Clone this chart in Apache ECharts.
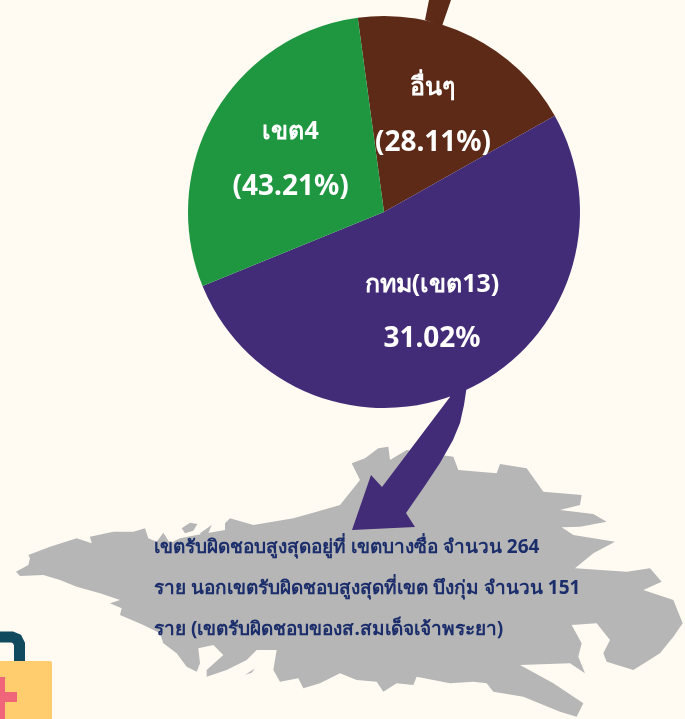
<!DOCTYPE html>
<html><head><meta charset="utf-8">
<style>html,body{margin:0;padding:0;background:#FFFBF3}#c{width:685px;height:719px}</style>
<script src="https://cdn.jsdelivr.net/npm/echarts@6/dist/echarts.min.js"></script></head>
<body><div id="c"></div>
<script>
// Printed labels, exactly as the picture shows them.
const categories = ['อื่นๆ', 'กทม(เขต13)', 'เขต4'];
const printedPercents = ['(28.11%)', '31.02%', '(43.21%)'];
// Slice sizes measured from the drawn wedge angles (the printed percentages do not match the wedges).
const sliceShares = [18.97, 52.0, 29.03];
const captionLines = [
  'เขตรับผิดชอบสูงสุดอยู่ที่ เขตบางซื่อ จำนวน 264',
  'ราย นอกเขตรับผิดชอบสูงสุดที่เขต บึงกุ่ม จำนวน 151',
  'ราย (เขตรับผิดชอบของส.สมเด็จเจ้าพระยา)'
];

const colors = ['#5C2A17', '#422C78', '#1F9640'];
const offsets = [[4, -6], [4, 9], [-6, -2]];
const FONT = '"Noto Sans", "Noto Sans CJK SC", sans-serif';

// Decorative map silhouette (not data), traced in two crops of the picture.
const west = [[48,215],[85,195],[90,175],[85,165],[150,140],[230,115],[275,130],[270,110],[340,95],[400,95],[435,85],[445,115],[470,125],[490,98],[510,130],[540,115],[590,105],[675,90],[675,70],[690,55],[760,75],[880,55],[950,35],[1020,15]].map(p => [p[0]/3, 500+p[1]/3]);
const east = [[60,120],[35,70],[75,55],[115,25],[145,20],[150,60],[200,30],[340,50],[355,90],[470,100],[480,72],[560,85],[610,155],[725,165],[720,195],[660,210],[760,222],[800,245],[720,260],[665,262],[700,285],[825,305],[760,340],[705,385],[860,395],[930,385],[965,425],[910,450],[1000,480],[1028,550],[1000,590],[960,640],[880,690],[800,665],[790,640],[810,600],[770,550],[695,555],[725,610],[715,650],[735,700],[690,670],[540,675],[640,730],[730,790],[710,830],[660,815],[550,770],[460,755],[440,730],[400,725],[330,730],[230,710],[220,735],[170,730],[130,755],[110,725],[50,720],[0,700]].map(p => [340+p[0]/3, 440+p[1]/3]);
const southWest = [[960,550],[910,565],[895,535],[840,545],[820,510],[830,450],[770,450],[740,480],[680,510],[620,530],[620,510],[670,465],[640,435],[595,445],[600,490],[590,515],[560,500],[530,460],[490,430],[480,400],[430,375],[360,345],[365,325],[330,310],[360,300],[300,280],[230,260],[180,240],[130,225],[60,228]].map(p => [p[0]/3, 500+p[1]/3]);
const mapPts = west.concat(east, southWest);
const islets = [
  [[545,85],[570,68],[592,72],[580,92],[555,100]],
  [[600,100],[635,75],[625,100],[605,110]],
  [[735,525],[765,505],[755,518]]
].map(s => s.map(p => [p[0]/3, 500+p[1]/3]));

const chart = echarts.init(document.getElementById('c'), null, {renderer: 'canvas'});
chart.setOption({
  backgroundColor: '#FFFBF3',
  animation: false,
  series: [{
    type: 'pie', z: 5,
    center: [384, 212], radius: [0, 196],
    startAngle: 97.7, clockwise: true, minAngle: 0,
    label: {show: false},
    labelLine: {show: false},
    data: sliceShares.map((v, i) => ({
      value: v, name: categories[i],
      itemStyle: {color: colors[i]},
      label: {
        show: true, position: 'inside', offset: offsets[i],
        formatter: '{a|' + categories[i] + '}\n{b|' + printedPercents[i] + '}',
        rich: {
          a: {color: '#fff', fontFamily: FONT, fontWeight: 'bold', fontSize: 25, lineHeight: 55, align: 'center'},
          b: {color: '#fff', fontFamily: FONT, fontWeight: 'bold', fontSize: 28, lineHeight: 55, align: 'center'}
        }
      }
    }))
  }],
  graphic: {elements: [
    {type: 'polygon', z: 1, shape: {points: mapPts}, style: {fill: '#B6B6B6'}}
  ].concat(islets.map(s => ({type: 'polygon', z: 1, shape: {points: s}, style: {fill: '#B6B6B6'}})), [
    {type: 'polygon', z: 2, shape: {points: [[425,20],[429,0],[451,0],[442,26]]}, style: {fill: colors[0]}},
    {type: 'polygon', z: 2, shape: {points: [[467,385],[464,405],[460,423],[453,440],[440,463],[424,487],[406,513],[415,527],[352,530],[371,475],[382,487],[450,397],[450,385]]}, style: {fill: colors[1]}},
    {type: 'polyline', z: 2, shape: {points: [[-8,637],[12,637],[17,639],[19.5,644],[19.5,665]]}, style: {fill: 'none', stroke: '#0F4A5E', lineWidth: 11}},
    {type: 'rect', z: 3, shape: {x: -4, y: 661, width: 56, height: 62, r: 2}, style: {fill: '#FFCC6E'}},
    {type: 'rect', z: 4, shape: {x: 0, y: 692, width: 17, height: 10}, style: {fill: '#F0657A'}},
    {type: 'rect', z: 4, shape: {x: 0, y: 677, width: 5, height: 42}, style: {fill: '#F0657A'}}
  ], captionLines.map((t, i) => ({
    type: 'text', z: 6, x: 154, y: 548 + i * 41,
    style: {text: t, fill: '#1B2E6B', font: 'bold 19px ' + FONT, textVerticalAlign: 'middle'}
  })))}
});
</script></body></html>
